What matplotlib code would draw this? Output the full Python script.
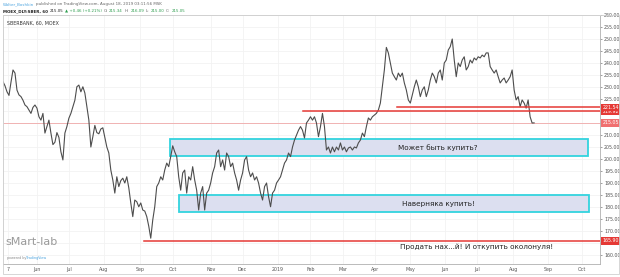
import numpy as np
import matplotlib.pyplot as plt
from matplotlib.patches import Rectangle
import matplotlib.transforms as mtransforms

# closes, one value every ~2 px (hourly SBER, May 2018 - Aug 2019)
close_1 = [232.2, 230.5, 228, 226.5, 232, 237.1, 235.8, 228.7, 226.7, 226,
           224.5, 222.5, 221.8, 220.4, 219, 221.5, 222.5, 221.2, 217.6, 216.2,
           219, 210.8, 213.5, 216.2, 210.8, 206, 207, 211, 209, 203,
           199.6, 210.8, 213.5, 217, 219, 221.8, 224.5, 230.1, 230.8, 228,
           230.1, 227.5, 221.8, 216.2, 205, 209.3, 214, 211, 210.5, 212.5,
           213, 209, 205, 202.5, 195.4, 191.25, 185.8, 192.6, 188.5, 191,
           192, 190, 192.6, 188, 181.7, 176, 182.9, 182.2, 180.1, 181.7,
           178.75, 178.3, 176, 172]
close_2 = [167, 174.6, 180.1, 188.5, 190, 192.6, 191.25, 195.4, 198.3, 196.8,
           201, 205.5, 203, 201, 192.6, 187, 194.2, 195.4, 185.8, 192.6,
           191.25, 196.8, 191.25, 187, 178.75, 185.8, 188.5, 178.75, 185.8, 187,
           190, 194.2, 196.8, 202.5, 203.75, 196.8, 199.6, 195.4, 202.5, 201,
           196.8, 198.3, 194.2, 191.25, 187, 191.25, 194.2, 199.6, 201, 195.4,
           192.6, 194.2, 191.25, 192.6, 190, 185.8, 182.9, 188.5, 190, 184.3,
           180.1, 185.8, 187, 190, 191.25, 192.6, 195.4, 198.3, 199.6, 202.5,
           201, 205, 207.9, 210, 212]
close_3 = [213.5, 212, 208.75, 215, 216.2, 217.6, 216.2, 217.6, 215, 209.3,
           213.5, 219, 213.5, 203.75, 205, 202.5, 205, 203, 205, 203.75,
           206.7, 203.75, 205, 203, 204.6, 205, 203.75, 205, 204.6, 206.7,
           207.9, 210.8, 209.3, 213.5, 217.1, 216.2, 217.6, 218.3, 219, 220.4,
           223.3, 230.1, 237.1, 246.5, 244.2, 240, 235.8, 234.3, 232.9, 235.8,
           234.3, 235.8, 231.7, 228.75, 224.6, 223.3, 226.7, 230.1, 232.9, 230.1,
           226, 228.75, 230.1, 226, 228.75, 232.9, 235.8, 234.3, 231.7, 235.8,
           237.1, 232.9, 240, 241.25, 245.4]
close_4 = [246.8, 250, 241.25, 234.3, 240, 238.5, 241.25, 242.6, 237.1, 238.5,
           241.25, 240, 242.1, 241.25, 242.6, 242.1, 243.3, 242.6, 244.2, 244.2,
           238.5, 237.1, 235.8, 237.1, 234.3, 231.7, 232.9, 233.75, 231.7, 232.9,
           234.3, 237.1, 228.75, 224.6, 226, 221.8, 224.6, 223.3, 221.2, 224.6,
           217.6, 215, 215.05]
closes = close_1 + close_2 + close_3 + close_4
last_price = 215.05

month_pos = [2.5, 17, 33, 50.5, 68.5, 85, 104, 120, 137.5, 154, 170.5,
             186.5, 204, 221.5, 237.5, 255.5, 273, 290]
month_lbl = ['7', 'Jun', 'Jul', 'Aug', 'Sep', 'Oct', 'Nov', 'Dec', '2019',
             'Feb', 'Mar', 'Apr', 'May', 'Jun', 'Jul', 'Aug', 'Sep', 'Oct']
price_ticks = list(range(160, 261, 5))
hidden_ticks = [165, 215, 220]

# drawn levels: (price, start bar)
red_levels = [(165.90, 70.5), (219.92, 150.5), (221.54, 197.5)]
# zones: (x0, x1, low, high, label)
zones = [(83.5, 293, 201.3, 208.2, 'Может быть купить?'),
         (88, 293.5, 177.8, 185.1, 'Наверняка купить!')]
sell_note = 'Продать нах...й! И откупить околонуля!'

header_1 = [('Wolter_Boshkin', '#4aa3df', 'normal'),
            ('published on TradingView.com, August 18, 2019 03:11:56 MSK', '#666666', 'normal')]
header_2 = [('MOEX_DLY:SBER, 60', '#222222', 'bold'),
            ('215.05', '#222222', 'normal'),
            ('▲ +0.46 (+0.21%)', '#2e9e4f', 'normal'),
            ('O:', '#666666', 'normal'), ('215.34', '#2e9e4f', 'normal'),
            ('H:', '#666666', 'normal'), ('216.09', '#2e9e4f', 'normal'),
            ('L:', '#666666', 'normal'), ('215.00', '#2e9e4f', 'normal'),
            ('C:', '#666666', 'normal'), ('215.05', '#2e9e4f', 'normal')]

W, H = 620, 277
fig = plt.figure(figsize=(W / 100, H / 100), dpi=100)
fig.patch.set_facecolor('white')
ax = fig.add_axes([3 / W, 13 / H, 597 / W, 249 / H])
ax.set_xlim(0, 299)
ax.set_ylim(156.25, 260)

for p in price_ticks:
    ax.axhline(p, color='#f2f2f2', lw=0.6, zorder=0)
for m in month_pos:
    ax.axvline(m, color='#f2f2f2', lw=0.6, zorder=0)

x = np.arange(len(closes))
ax.plot(x, closes, color='#4d4d4d', lw=0.8, zorder=3)

ax.axhline(last_price, color='#f0a8a8', lw=0.6, zorder=1)

for price, start in red_levels:
    ax.plot([start, 299], [price, price], color='#e53935', lw=1.1, zorder=4)

for x0, x1, lo, hi, lbl in zones:
    ax.add_patch(Rectangle((x0, lo), x1 - x0, hi - lo, facecolor='#dcdff0',
                           edgecolor='#33d3de', lw=1.3, zorder=2))
    ax.text(218, (lo + hi) / 2, lbl, fontsize=5.2, color='#222222',
            ha='center', va='center', zorder=5)

ax.text(237, 163.3, sell_note, fontsize=5.2, color='#222222',
        ha='center', va='center', zorder=5)

ax.yaxis.tick_right()
ax.set_yticks(price_ticks)
ax.set_yticklabels(['' if p in hidden_ticks else f'{p:.2f}' for p in price_ticks])
ax.tick_params(axis='y', labelsize=3.4, colors='#555555', length=1.5,
               width=0.4, pad=1.5)
ax.set_xticks(month_pos)
ax.set_xticklabels(month_lbl)
ax.tick_params(axis='x', labelsize=3.4, colors='#555555', length=0, pad=2.5)
for s in ['left', 'top']:
    ax.spines[s].set_color('#d8d8d8')
    ax.spines[s].set_linewidth(0.6)
for s in ['right', 'bottom']:
    ax.spines[s].set_color('#b0b0b0')
    ax.spines[s].set_linewidth(0.6)

# price labels on the scale
trans = mtransforms.blended_transform_factory(ax.transAxes, ax.transData)
for price, _ in red_levels:
    ax.text(1.004, price, f'{price:.2f}', transform=trans, fontsize=3.4,
            color='white', ha='left', va='center', clip_on=False,
            bbox=dict(boxstyle='square,pad=0.25', fc='#e53935', ec='none'))
ax.text(1.004, last_price, f'{last_price:.2f}', transform=trans, fontsize=3.4,
        color='white', ha='left', va='center', clip_on=False,
        bbox=dict(boxstyle='square,pad=0.25', fc='#f07070', ec='none'))

ax.text(0.006, 0.975, 'SBERBANK, 60, MOEX', transform=ax.transAxes,
        fontsize=3.4, color='#333333', va='top')
ax.text(0.004, 0.07, 'sMart-lab', transform=ax.transAxes, fontsize=8,
        color='#9a9a9a', va='bottom')
ax.text(0.006, 0.018, 'powered by', transform=ax.transAxes, fontsize=2.4,
        color='#888888', va='bottom')
ax.text(0.038, 0.018, 'TradingView', transform=ax.transAxes, fontsize=2.4,
        color='#4aa3df', va='bottom')

# header, pieces laid out left to right
renderer = fig.canvas.get_renderer()


def header_line(pieces, py, size):
    px = 3.0
    for s, color, weight in pieces:
        t = fig.text(px / W, 1 - py / H, s, fontsize=size, color=color,
                     fontweight=weight, va='center', ha='left')
        bb = t.get_window_extent(renderer)
        px = bb.x1 + 1.5


header_line(header_1, 4, 2.9)
header_line(header_2, 11, 2.9)

# outer frame
fig.patches.append(Rectangle((3 / W, 3 / H), 616 / W, 259 / H,
                             transform=fig.transFigure, fill=False,
                             edgecolor='#d0d0d0', lw=0.6))

fig.savefig('out.png', dpi=100)
